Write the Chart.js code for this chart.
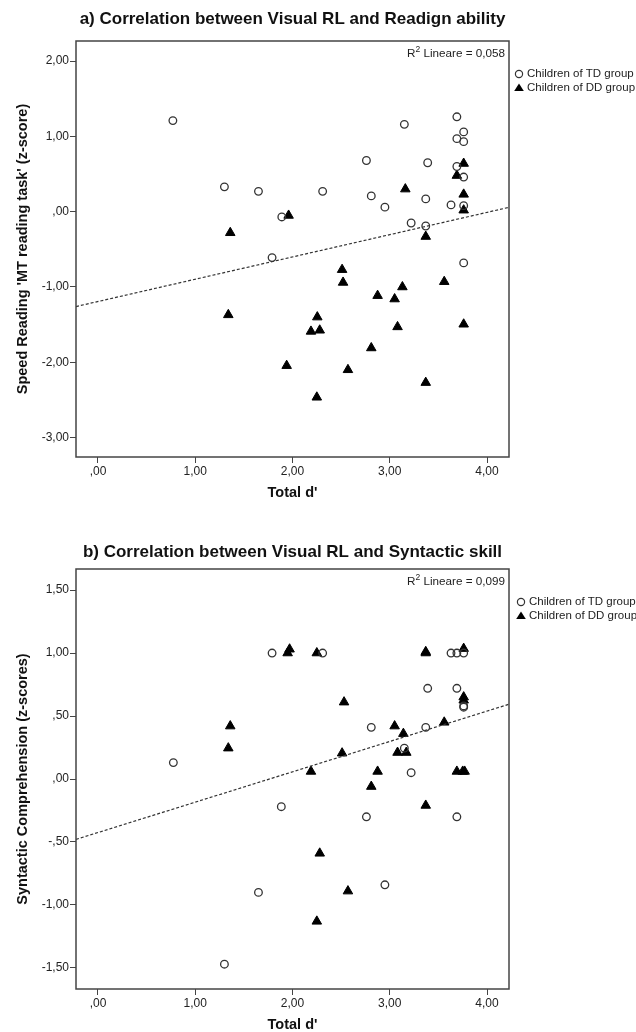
<!DOCTYPE html>
<html>
<head>
<meta charset="utf-8">
<script src="https://cdn.jsdelivr.net/npm/chart.js@4/dist/chart.umd.min.js"></script>
<style>
    body { margin: 0; background: #fff; width: 636px; height: 1032px; overflow: hidden; position: relative; }
    canvas { position: absolute; left: 0; }
</style>
</head>
<body>
<canvas id="readingChart" width="636" height="510" style="top:0px"></canvas>
<canvas id="syntaxChart" width="636" height="522" style="top:510px"></canvas>
<script>
// tick values
const xTicks = [0, 1, 2, 3, 4];
const readingTicks = [-3, -2, -1, 0, 1, 2];
const syntaxTicks = [-1.5, -1, -0.5, 0, 0.5, 1, 1.5];

// a) speed reading vs total d'  [total d', z-score]
const readingTD = [
    [0.77, 1.21], [1.30, 0.33], [1.65, 0.27], [2.31, 0.27], [1.89, -0.07], [1.79, -0.61],
    [3.69, 1.26], [3.15, 1.16], [3.76, 1.06], [3.69, 0.97], [3.76, 0.93], [2.76, 0.68],
    [3.39, 0.65], [3.69, 0.60], [3.76, 0.46], [2.81, 0.21], [3.37, 0.17], [2.95, 0.06],
    [3.63, 0.09], [3.76, 0.08], [3.22, -0.15], [3.37, -0.19], [3.76, -0.68]
];
const readingDD = [
    [1.96, -0.05], [1.36, -0.28], [3.76, 0.64], [3.69, 0.48], [3.16, 0.30], [3.76, 0.23],
    [3.76, 0.02], [3.37, -0.33], [2.51, -0.77], [2.52, -0.94], [3.56, -0.93], [3.13, -1.00],
    [2.875, -1.115], [3.05, -1.16], [2.255, -1.40], [2.19, -1.59], [2.28, -1.575], [3.08, -1.53],
    [3.76, -1.495], [2.81, -1.81], [2.57, -2.10], [3.37, -2.27], [2.25, -2.465], [1.34, -1.37],
    [1.94, -2.045]
];
const readingFit = { intercept: -1.193, slope: 0.296, r2: '0,058' };

// b) syntactic comprehension vs total d'
const syntaxTD = [
    [1.79, 1.00], [2.31, 1.00], [0.775, 0.13], [3.63, 1.00], [3.69, 1.00], [3.76, 1.00],
    [3.39, 0.72], [3.69, 0.72], [3.76, 0.58], [3.76, 0.57], [2.81, 0.41], [3.37, 0.41],
    [3.15, 0.245], [3.22, 0.05], [2.76, -0.30], [3.69, -0.30], [2.95, -0.84], [1.885, -0.22],
    [1.65, -0.90], [1.30, -1.47]
];
const syntaxDD = [
    [1.95, 1.00], [1.97, 1.03], [2.25, 1.00], [2.53, 0.61], [1.36, 0.42], [1.34, 0.245],
    [2.51, 0.205], [3.37, 1.00], [3.37, 1.01], [3.76, 1.035], [3.76, 0.65], [3.76, 0.625],
    [3.05, 0.42], [3.14, 0.36], [3.56, 0.45], [3.08, 0.21], [3.17, 0.21], [2.19, 0.06],
    [2.875, 0.06], [3.69, 0.06], [3.75, 0.06], [3.77, 0.06], [2.81, -0.06], [3.37, -0.21],
    [2.28, -0.59], [2.57, -0.89], [2.25, -1.13]
];
const syntaxFit = { intercept: -0.425, slope: 0.241, r2: '0,099' };

const groupLabels = ['Children of TD group', 'Children of DD group'];

const FONT = "'Liberation Sans', Arial, sans-serif";
const X_MIN = -0.226, X_MAX = 4.226;

function fmt(v) {
    let s = Math.abs(v).toFixed(2).replace('.', ',');
    if (s.charAt(0) === '0') s = s.slice(1);
    return (v < 0 ? '-' : '') + s;
}

function toPoints(arr) {
    return arr.map(p => ({ x: p[0], y: p[1] }));
}

// box, titles, R2 label and legend
const decor = {
    id: 'decor',
    afterDraw(chart, args, o) {
        const ctx = chart.ctx;
        const a = chart.chartArea;
        const cx = (a.left + a.right) / 2;
        ctx.save();
        ctx.strokeStyle = '#444';
        ctx.lineWidth = 1.5;
        ctx.strokeRect(a.left, a.top, a.right - a.left, a.bottom - a.top);

        ctx.fillStyle = '#111';
        ctx.textAlign = 'center';
        ctx.textBaseline = 'middle';
        ctx.font = 'bold 17px ' + FONT;
        ctx.fillText(o.title, cx, o.titleY);

        ctx.font = 'bold 14.5px ' + FONT;
        ctx.fillText("Total d'", cx, a.bottom + 36);
        ctx.save();
        ctx.translate(23, (a.top + a.bottom) / 2);
        ctx.rotate(-Math.PI / 2);
        ctx.fillText(o.yTitle, 0, 0);
        ctx.restore();

        // R2 label
        ctx.fillStyle = '#222';
        ctx.textAlign = 'left';
        ctx.textBaseline = 'alphabetic';
        const rest = ' Lineare = ' + o.r2;
        ctx.font = '11.7px ' + FONT;
        const wR = ctx.measureText('R').width, wRest = ctx.measureText(rest).width;
        ctx.font = '8.5px ' + FONT;
        const w2 = ctx.measureText('2').width;
        let x = a.right - 4 - (wR + w2 + wRest);
        const by = a.top + 16;
        ctx.font = '11.7px ' + FONT;
        ctx.fillText('R', x, by);
        ctx.font = '8.5px ' + FONT;
        ctx.fillText('2', x + wR, by - 5);
        ctx.font = '11.7px ' + FONT;
        ctx.fillText(rest, x + wR + w2, by);

        // legend
        const lx = o.legendX;
        const rows = [a.top + 33, a.top + 47];
        ctx.textBaseline = 'middle';
        ctx.font = '11.5px ' + FONT;
        ctx.strokeStyle = '#333';
        ctx.lineWidth = 1.2;
        ctx.beginPath();
        ctx.arc(lx, rows[0], 3.6, 0, Math.PI * 2);
        ctx.stroke();
        ctx.fillStyle = '#000';
        ctx.beginPath();
        ctx.moveTo(lx, rows[1] - 4.5);
        ctx.lineTo(lx + 4.8, rows[1] + 3);
        ctx.lineTo(lx - 4.8, rows[1] + 3);
        ctx.closePath();
        ctx.fill();
        ctx.fillStyle = '#222';
        ctx.fillText(groupLabels[0], lx + 8, rows[0]);
        ctx.fillText(groupLabels[1], lx + 8, rows[1]);
        ctx.restore();
    }
};

function makeChart(id, td, dd, fit, yTicks, yMin, yMax, box, text) {
    const ctx = document.getElementById(id).getContext('2d');
    const canvasH = ctx.canvas.height;
    return new Chart(ctx, {
        type: 'scatter',
        data: {
            datasets: [{
                type: 'line',
                data: [
                    { x: X_MIN, y: fit.intercept + fit.slope * X_MIN },
                    { x: X_MAX, y: fit.intercept + fit.slope * X_MAX }
                ],
                borderColor: '#333',
                borderWidth: 1.2,
                borderDash: [3, 2],
                pointRadius: 0,
                fill: false
            }, {
                label: groupLabels[0],
                data: toPoints(td),
                pointStyle: 'circle',
                pointRadius: 3.8,
                backgroundColor: 'rgba(255,255,255,0)',
                borderColor: '#333',
                borderWidth: 1.3
            }, {
                label: groupLabels[1],
                data: toPoints(dd),
                pointStyle: 'triangle',
                pointRadius: 5.5,
                backgroundColor: '#000',
                borderColor: '#000',
                borderWidth: 1
            }]
        },
        options: {
            responsive: false,
            animation: false,
            devicePixelRatio: 1,
            layout: { padding: { left: 0, top: box.top, right: 636 - box.right, bottom: 0 } },
            plugins: {
                legend: { display: false },
                tooltip: { enabled: false },
                decor: text
            },
            scales: {
                x: {
                    type: 'linear',
                    min: X_MIN,
                    max: X_MAX,
                    afterBuildTicks: s => { s.ticks = xTicks.map(v => ({ value: v })); },
                    afterFit: s => { s.height = canvasH - box.bottom; },
                    ticks: { callback: v => fmt(v), font: { family: FONT, size: 12 }, color: '#222', padding: 1, maxRotation: 0, autoSkip: false },
                    grid: { drawOnChartArea: false, drawTicks: true, tickLength: 6, color: '#444' },
                    border: { display: false }
                },
                y: {
                    type: 'linear',
                    min: yMin,
                    max: yMax,
                    afterBuildTicks: s => { s.ticks = yTicks.map(v => ({ value: v })); },
                    afterFit: s => { s.width = box.left; },
                    ticks: { callback: v => fmt(v), font: { family: FONT, size: 12 }, color: '#222', padding: 1, autoSkip: false },
                    grid: { drawOnChartArea: false, drawTicks: true, tickLength: 6, color: '#444' },
                    border: { display: false }
                }
            }
        },
        plugins: [decor]
    });
}

makeChart('readingChart', readingTD, readingDD, readingFit, readingTicks, -3.258, 2.267,
    { left: 76, right: 509, top: 41, bottom: 457 },
    { title: 'a) Correlation between Visual RL and Readign ability', titleY: 19, legendX: 519,
      yTitle: "Speed Reading 'MT reading task' (z-score)", r2: readingFit.r2 });

makeChart('syntaxChart', syntaxTD, syntaxDD, syntaxFit, syntaxTicks, -1.667, 1.667,
    { left: 76, right: 509, top: 59, bottom: 479 },
    { title: 'b) Correlation between Visual RL and Syntactic skill', titleY: 42, legendX: 521,
      yTitle: 'Syntactic Comprehension (z-scores)', r2: syntaxFit.r2 });
</script>
</body>
</html>
